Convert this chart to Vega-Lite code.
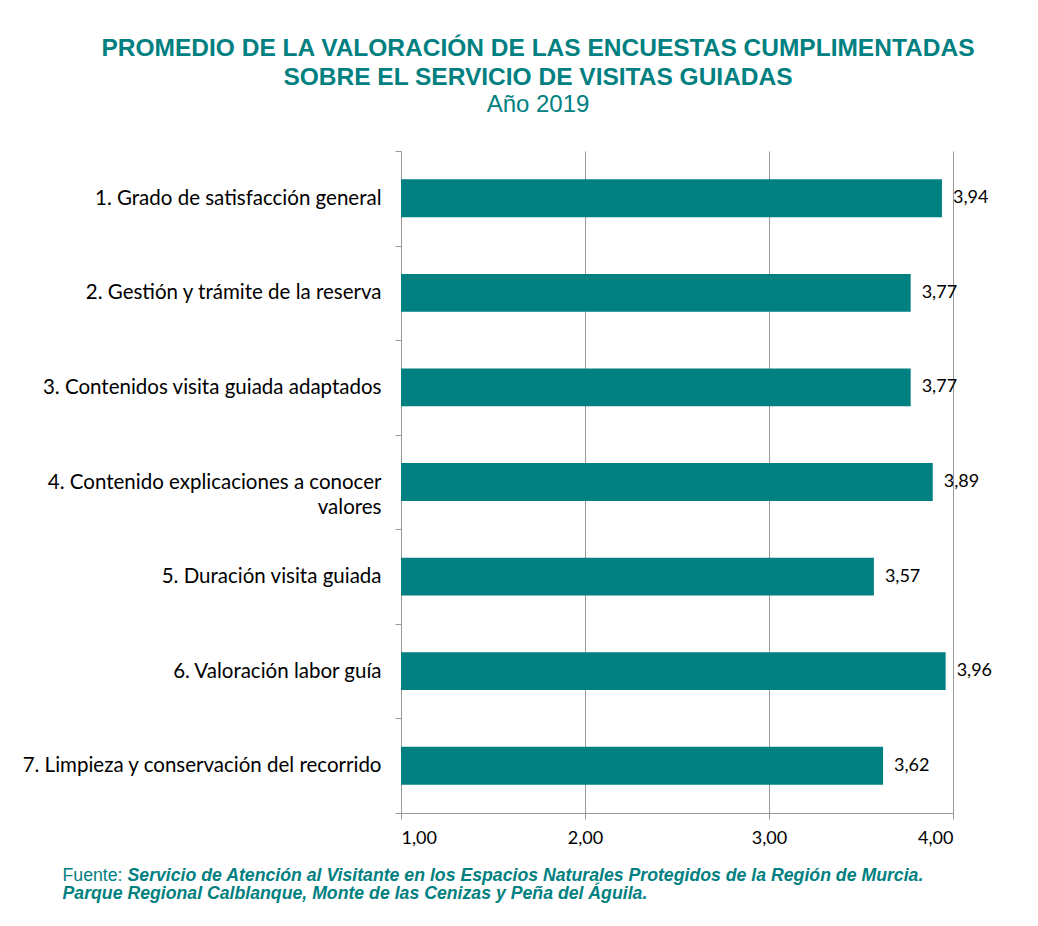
{
  "$schema": "https://vega.github.io/schema/vega-lite/v6.json",
  "width": 552,
  "height": 662,
  "autosize": {"type": "none"},
  "padding": {"left": 401, "top": 151, "right": 85, "bottom": 113},
  "background": "white",
  "config": {
    "locale": {"number": {"decimal": ",", "thousands": ".", "grouping": [3], "currency": ["", " €"]}},
    "view": {"stroke": null},
    "font": "Lato"
  },
  "title": {
    "text": ["PROMEDIO DE LA VALORACIÓN DE LAS ENCUESTAS CUMPLIMENTADAS", "SOBRE EL SERVICIO DE VISITAS GUIADAS"],
    "subtitle": "Año 2019",
    "anchor": "middle",
    "frame": "group",
    "dx": -139,
    "offset": 23,
    "font": "Liberation Sans",
    "fontSize": 24.5,
    "fontWeight": "bold",
    "color": "#008080",
    "lineHeight": 29,
    "subtitleFont": "Liberation Sans",
    "subtitleFontSize": 24,
    "subtitleColor": "#008080",
    "subtitlePadding": 3
  },
  "data": {
    "values": [
      {"item": "1. Grado de satisfacción general", "valor": 3.94},
      {"item": "2. Gestión y trámite de la reserva", "valor": 3.77},
      {"item": "3. Contenidos visita guiada adaptados", "valor": 3.77},
      {"item": "4. Contenido explicaciones a conocer valores", "valor": 3.89},
      {"item": "5. Duración visita guiada", "valor": 3.57},
      {"item": "6. Valoración labor guía", "valor": 3.96},
      {"item": "7. Limpieza y conservación del recorrido", "valor": 3.62}
    ]
  },
  "layer": [
    {
      "mark": {"type": "bar", "color": "#008080", "height": {"band": 0.4}},
      "encoding": {
        "y": {
          "field": "item", "type": "nominal", "sort": null,
          "scale": {"paddingInner": 0, "paddingOuter": 0},
          "axis": {
            "title": "Fuente:",
            "titleAngle": 0,
            "titleX": -339,
            "titleY": 729,
            "titleAlign": "left",
            "titleBaseline": "alphabetic",
            "titleFont": "Liberation Sans",
            "titleFontSize": 17.7,
            "titleFontWeight": "normal",
            "titleColor": "#008080",
            "tickBand": "extent",
            "tickSize": 6,
            "tickColor": "#999999",
            "domainColor": "#999999",
            "grid": false,
            "labelFont": "Lato",
            "labelFontSize": 20.5,
            "labelColor": "#000000",
            "labelPadding": 14,
            "labelLimit": 400,
            "labelLineHeight": 25,
            "labelExpr": "datum.label == '4. Contenido explicaciones a conocer valores' ? ['4. Contenido explicaciones a conocer', 'valores'] : datum.label"
          }
        },
        "x": {
          "field": "valor", "type": "quantitative",
          "scale": {"domain": [1, 4], "zero": false, "nice": false},
          "axis": {
            "values": [1, 2, 3, 4],
            "format": ".2f",
            "grid": true,
            "gridColor": "#999999",
            "gridWidth": 1,
            "domainColor": "#999999",
            "tickColor": "#999999",
            "tickSize": 6,
            "labelFont": "Lato",
            "labelFontSize": 18,
            "labelColor": "#000000",
            "labelPadding": 10,
            "title": "Servicio de Atención al Visitante en los Espacios Naturales Protegidos de la Región de Murcia.",
            "titleX": -274,
            "titleY": 67,
            "titleAlign": "left",
            "titleAnchor": "start",
            "titleBaseline": "alphabetic",
            "titleFont": "Liberation Sans",
            "titleFontSize": 17.7,
            "titleFontStyle": "italic",
            "titleFontWeight": "bold",
            "titleColor": "#008080"
          }
        },
        "x2": {"datum": 1}
      }
    },
    {
      "mark": {"type": "text", "align": "left", "baseline": "middle", "dx": 11, "fontSize": 18, "font": "Lato", "color": "#000000"},
      "encoding": {
        "y": {"field": "item", "type": "nominal", "sort": null},
        "x": {
          "field": "valor", "type": "quantitative",
          "axis": {
            "orient": "bottom",
            "labels": false,
            "ticks": false,
            "domain": false,
            "grid": false,
            "title": "Parque Regional Calblanque, Monte de las Cenizas y Peña del Águila.",
            "titleX": -339,
            "titleY": 85,
            "titleAlign": "left",
            "titleAnchor": "start",
            "titleBaseline": "alphabetic",
            "titleFont": "Liberation Sans",
            "titleFontSize": 17.7,
            "titleFontStyle": "italic",
            "titleFontWeight": "bold",
            "titleColor": "#008080"
          }
        },
        "text": {"field": "valor", "type": "quantitative", "format": ".2f"}
      }
    }
  ],
  "resolve": {"scale": {"x": "shared"}, "axis": {"x": "independent"}}
}
